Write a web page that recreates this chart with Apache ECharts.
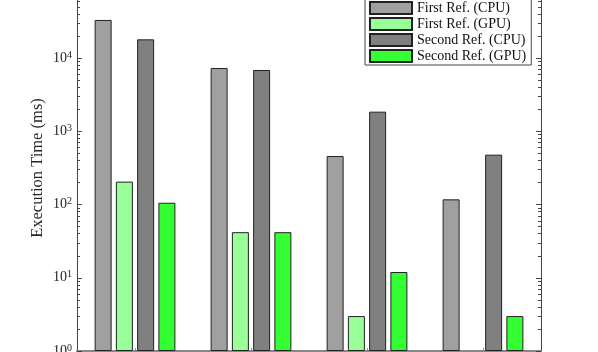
<!DOCTYPE html>
<html>
<head>
<meta charset="utf-8">
<script src="https://cdn.jsdelivr.net/npm/echarts@6/dist/echarts.min.js"></script>
<style>
  html, body { margin: 0; padding: 0; background: #fff; }
  #chart { width: 598px; height: 352px; }
</style>
</head>
<body>
<div id="chart"></div>
<script>
// categories (labels sit below the visible window)
const categories = ['Case 1', 'Case 2', 'Case 3', 'Case 4']
// execution times (ms)
const firstCPU = [33300, 7350, 461, 118]
const firstGPU = [206, 42, 3, '-']
const secondCPU = [18100, 6900, 1860, 481]
const secondGPU = [106, 42, 12, 3]
const seriesNames = ['First Ref. (CPU)', 'First Ref. (GPU)', 'Second Ref. (CPU)', 'Second Ref. (GPU)']
const seriesColors = ['#a0a0a0', '#99ff99', '#808080', '#33ff33']

// minor tick positions 2..9 x 10^k
const minorTicks = []
for (let k = 0; k < 5; k++) {
  for (let m = 2; m <= 9; m++) minorTicks.push(m * Math.pow(10, k))
}

const chart = echarts.init(document.getElementById('chart'))
const serif = 'Liberation Serif'

function yAxisBase(pos, isMinor) {
  return {
    type: 'log',
    logBase: 10,
    min: 1,
    max: 100000,
    position: pos,
    splitLine: {show: false},
    axisLine: {show: true, lineStyle: {color: '#444', width: 1}},
    axisTick: isMinor
      ? {show: true, inside: true, length: 3, customValues: minorTicks, lineStyle: {color: '#444'}}
      : {show: true, inside: true, length: 5, lineStyle: {color: '#444'}},
    axisLabel: {show: false}
  }
}

const leftMajor = yAxisBase('left', false)
leftMajor.name = 'Execution Time (ms)'
leftMajor.nameLocation = 'middle'
leftMajor.nameGap = 31
leftMajor.nameMoveOverlap = false
leftMajor.nameTextStyle = {fontFamily: serif, fontSize: 16.5, color: '#262626'}
leftMajor.axisLabel = {
  show: true,
  margin: 5,
  formatter: v => '{b|10}{s|' + Math.round(Math.log10(v)) + '}',
  rich: {
    b: {fontFamily: serif, fontSize: 14, color: '#262626', lineHeight: 16},
    s: {fontFamily: serif, fontSize: 10, color: '#262626', verticalAlign: 'top', lineHeight: 16}
  }
}

const option = {
  animation: false,
  backgroundColor: '#fff',
  grid: {left: 77, right: 57, top: -15, bottom: 1, outerBoundsMode: 'none', containLabel: false},
  legend: {
    orient: 'vertical',
    left: 365,
    top: -4,
    padding: [4, 5, 1, 4],
    itemWidth: 42,
    itemHeight: 12,
    itemGap: 0,
    icon: 'rect',
    borderColor: '#444',
    borderWidth: 1,
    backgroundColor: '#fff',
    textStyle: {fontFamily: serif, fontSize: 14, lineHeight: 16, color: '#111'},
    data: seriesNames
  },
  xAxis: {
    type: 'category',
    data: categories,
    axisLine: {show: true, lineStyle: {color: '#888', width: 2}},
    axisTick: {show: true, inside: true, alignWithLabel: true, length: 3, lineStyle: {color: '#888'}},
    axisLabel: {show: false}
  },
  yAxis: [
    leftMajor,
    yAxisBase('left', true),
    yAxisBase('right', false),
    yAxisBase('right', true)
  ],
  series: [firstCPU, firstGPU, secondCPU, secondGPU].map((d, i) => ({
    name: seriesNames[i],
    type: 'bar',
    data: d,
    barWidth: 17,
    barGap: '25%',
    itemStyle: {color: seriesColors[i], borderColor: '#222', borderWidth: 1}
  }))
}

chart.setOption(option)
</script>
</body>
</html>
